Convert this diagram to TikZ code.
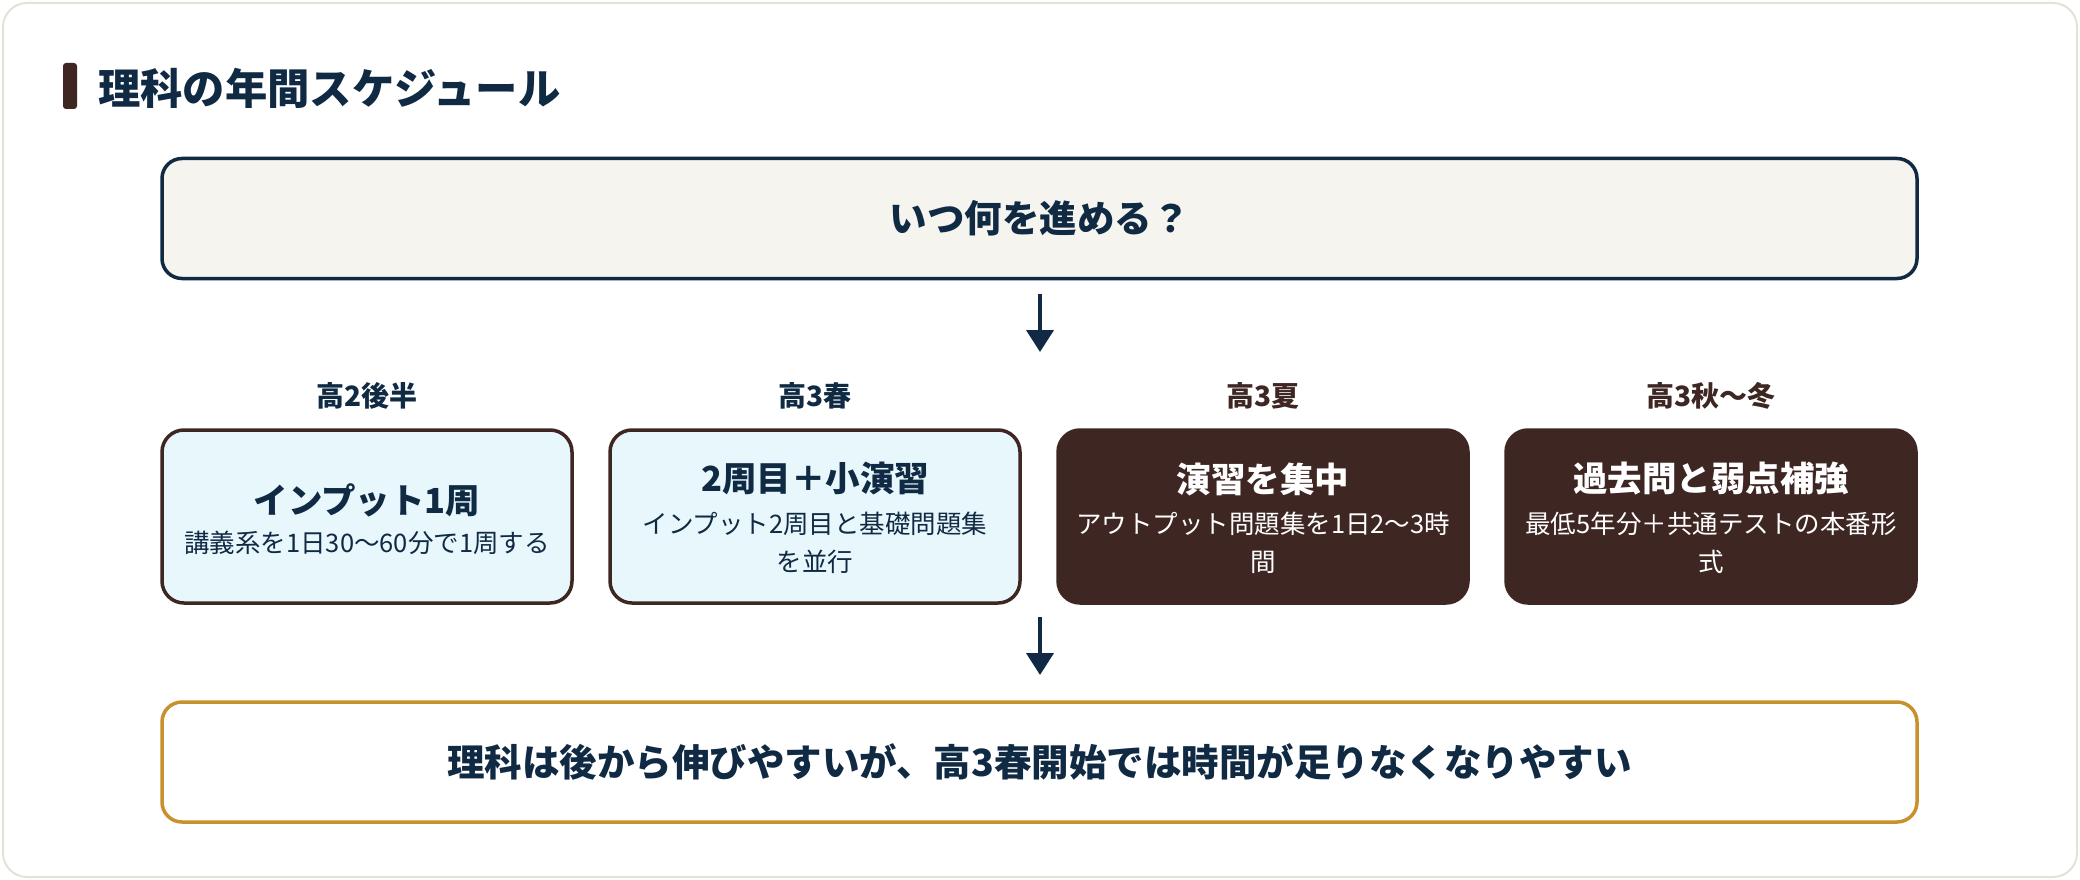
\documentclass[tikz,border=0pt]{standalone}
\usepackage{fontspec}
\setmainfont{Noto Sans CJK JP}
\usetikzlibrary{arrows.meta}
\definecolor{navy}{HTML}{102A43}
\definecolor{darkbrown}{HTML}{3E2723}
\definecolor{lightblue}{HTML}{E8F7FC}
\definecolor{cream}{HTML}{F5F4EF}
\definecolor{gold}{HTML}{C8912E}
\definecolor{framecol}{HTML}{E4E2D6}
\tikzset{
  mainbox/.style={draw=navy, fill=cream, line width=3.5pt, rounded corners=20pt,
    minimum width=1755pt, minimum height=120pt, inner sep=0pt,
    text=navy, font=\bfseries\fontsize{37.5}{45}\selectfont},
  notebox/.style={mainbox, draw=gold, fill=white, font=\bfseries\fontsize{37.5}{45}\selectfont},
  phaselight/.style={draw=darkbrown, fill=lightblue, line width=3.5pt, rounded corners=22pt,
    minimum width=410pt, minimum height=173pt, inner sep=0pt},
  phasedark/.style={phaselight, fill=darkbrown},
  phaselabel/.style={inner sep=0pt, font=\bfseries\fontsize{28}{33}\selectfont},
  ptitle/.style={inner sep=0pt, font=\bfseries\fontsize{34.5}{41}\selectfont},
  psub/.style={inner sep=0pt, align=center, font=\fontsize{25.5}{38}\selectfont},
  flowarrow/.style={draw=navy, line width=4pt, -{Triangle[width=27pt,length=22pt]}},
}
\begin{document}
\begin{tikzpicture}[x=1pt,y=-1pt]
\useasboundingbox (0,0) rectangle (2080,880);
\draw[draw=framecol, line width=2pt, fill=white, rounded corners=24pt] (3,3) rectangle (2077,877);
% title
\fill[darkbrown, rounded corners=3pt] (63,63) rectangle (77,109);
\node[anchor=west, inner sep=0pt, text=navy, font=\bfseries\fontsize{42.3}{51}\selectfont] (title) at (98,88) {理科の年間スケジュール};
% top box
\node[mainbox] (top) at (1039.5,218.5) {いつ何を進める？};
% phase labels
\node[phaselabel, text=navy] (l1) at (367,396) {高2後半};
\node[phaselabel, text=navy] (l2) at (815,396) {高3春};
\node[phaselabel, text=darkbrown] (l3) at (1263,396) {高3夏};
\node[phaselabel, text=darkbrown] (l4) at (1711,396) {高3秋〜冬};
% phase boxes
\node[phaselight] (b1) at (367,516.5) {};
\node[phaselight] (b2) at (815,516.5) {};
\node[phasedark] (b3) at (1263,516.5) {};
\node[phasedark] (b4) at (1711,516.5) {};
\node[ptitle, text=navy] (b1t) at (367,500) {インプット1周};
\node[psub, text=navy] (b1s) at (367,543) {講義系を1日30〜60分で1周する};
\node[ptitle, text=navy] (b2t) at (815,479) {2周目＋小演習};
\node[psub, text=navy] (b2s) at (815,543) {インプット2周目と基礎問題集\\を並行};
\node[ptitle, text=white] (b3t) at (1263,479) {演習を集中};
\node[psub, text=white] (b3s) at (1263,543) {アウトプット問題集を1日2〜3時\\間};
\node[ptitle, text=white] (b4t) at (1711,479) {過去問と弱点補強};
\node[psub, text=white] (b4s) at (1711,543) {最低5年分＋共通テストの本番形\\式};
% bottom box
\node[notebox] (note) at (1039.5,762) {理科は後から伸びやすいが、高3春開始では時間が足りなくなりやすい};
% arrows
\coordinate (a1s) at (1040,294);
\coordinate (a1e) at (1040,352);
\coordinate (a2s) at (1040,617);
\coordinate (a2e) at (1040,675);
\draw[flowarrow] (a1s) -- (a1e);
\draw[flowarrow] (a2s) -- (a2e);
\end{tikzpicture}
\end{document}
